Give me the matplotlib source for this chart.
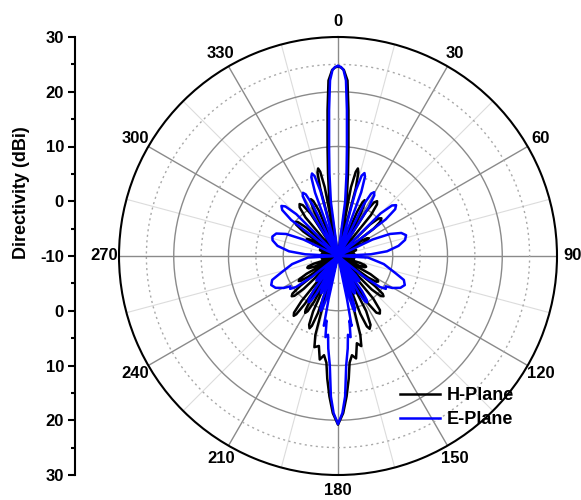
import numpy as np
import matplotlib

matplotlib.use("Agg")
import matplotlib.pyplot as plt
from matplotlib.ticker import MultipleLocator

plt.rcParams["font.family"] = ["Liberation Sans", "DejaVu Sans"]
plt.rcParams["font.weight"] = "bold"

# H-plane directivity cut: angle (deg, clockwise from boresight) and gain (dBi)
h_angle = [
    0, 0.9, 1.8, 3.1, 4.1, 5.5, 6.9, 8.5, 9.8,
    10.7, 11.9, 12.8, 13.7, 14.7, 16, 22,
    23.4, 24.5, 25.5, 26.8, 28.2, 30,
    32.2, 33.9, 35.5, 37.1, 38.8, 41,
    43, 45.4, 47.2, 49, 50.8, 52.6, 55,
    57, 58.5, 60, 61.5, 63, 65,
    67.4, 69.2, 71, 72.5, 74, 76,
    77, 79, 80.5, 82, 83.8, 85.6, 88,
    93, 95.4, 97.2, 99, 100.8, 102.6, 105,
    107.4, 109.2, 111, 112.8, 114.6, 117,
    119.2, 120.9, 122.5, 124, 125.6, 127.5,
    129.1, 130.3, 131.5, 133.1, 134.8, 137,
    138, 140.4, 142.2, 144, 145.9, 147.8, 150.5,
    152.9, 154.7, 156.5, 157.7, 158.9, 160.5,
    161.8, 163, 164.2, 165.5, 167.8, 170, 172, 173.8, 175, 176.5, 178.1, 180,
    181.9, 183.5, 185, 186.2, 188, 190, 192, 194.5, 196, 197, 198,
    199.4, 200.5, 201.5, 202.8, 204.2, 206,
    207.6, 208.8, 210, 211, 212.1, 213.5,
    214.7, 215.6, 216.5, 217.8, 219, 221,
    224.5, 226.3, 227.6, 229, 230.4, 231.7, 233.5,
    235.1, 236.3, 237.5, 239, 240.5, 242.5,
    243.5, 245.7, 247.4, 249, 250.7, 252.3, 254.5,
    255, 257.4, 259.2, 261, 262.8, 264.6, 267,
    272, 274.4, 276.2, 278, 279.5, 281, 283,
    284, 286, 287.5, 289, 290.5, 292, 294,
    295.8, 297.2, 298.5, 299.8, 301.2, 303,
    305.2, 306.9, 308.5, 310.2, 311.8, 314,
    317.5, 319.9, 321.7, 323.5, 325.3, 327.1, 329.5,
    330, 331.8, 333.2, 334.5, 335.8, 337.2, 338.5,
    344, 345.3, 346.2, 347.2, 348.1, 349.1, 350.2,
    351.5, 353.1, 354.5, 355.9, 356.9, 358.2, 359.1, 360,
]
h_gain = [
    24.6, 24.45, 24.0, 22.1, 16.7, 9.9, 5.2, 1.0, -10,
    2.8, 5.7, 6.4, 5.7, 2.8, -10, -10,
    -1.2, 0.8, 1.3, 0.8, -1.2, -10,
    -0.4, 1.8, 2.3, 1.8, -0.4, -10,
    -10, -1.8, 0.1, 0.5, 0.1, -1.8, -10,
    -4.9, -3.8, -3.5, -3.8, -4.9, -10,
    -7.3, -6.6, -6.5, -6.6, -7.3, -10,
    -10, -7.7, -7.1, -7.0, -7.1, -7.7, -10,
    -10, -7.7, -7.1, -7.0, -7.1, -7.7, -10,
    -5.7, -4.7, -4.5, -4.7, -5.7, -10,
    -3.2, -1.6, -1.3, -1.6, -3.2, -10,
    -1.3, 0.7, 1.1, 0.7, -1.3, -10,
    -10, 0.1, 2.5, 3.0, 2.5, 0.1, -10,
    1.3, 3.9, 4.5, 3.9, 1.3, -10,
    -10, -1.0, 5.0, 7.0, 6.3, 9.0, 8.3, 9.6, 12.5, 15.7, 18.7, 20.8,
    18.7, 15.7, 12.5, 9.6, 8.3, 9.2, 6.8, 7.2, 5.0, -1.0, -10,
    1.1, 3.6, 4.2, 3.6, 1.1, -10,
    -0.6, 1.5, 2.0, 1.5, -0.6, -10,
    0.6, 3.1, 3.6, 3.1, 0.6, -10,
    -10, -1.3, 0.8, 1.2, 0.8, -1.3, -10,
    -3.4, -1.8, -1.5, -1.8, -3.4, -10,
    -10, -5.3, -4.2, -4.0, -4.2, -5.3, -10,
    -10, -7.7, -7.1, -7.0, -7.1, -7.7, -10,
    -10, -7.7, -7.1, -7.0, -7.1, -7.7, -10,
    -10, -7.3, -6.6, -6.5, -6.6, -7.3, -10,
    -4.9, -3.8, -3.5, -3.8, -4.9, -10,
    -2.2, -0.4, 0.0, -0.4, -2.2, -10,
    -10, -0.8, 1.3, 1.8, 1.3, -0.8, -10,
    -10, -1.0, 1.0, 1.5, 1.0, -1.0, -10,
    -10, 2.8, 5.7, 6.4, 5.7, 2.8, -10,
    1.0, 5.2, 9.9, 16.7, 22.1, 24.0, 24.45, 24.6,
]

# E-plane directivity cut
e_angle = [
    0, 0.85, 1.7, 2.6, 3.5, 4.7, 5.9, 7.5, 9, 13.5,
    15.2, 16.4, 17.7, 18.8, 20, 21.5, 24.5,
    26.5, 28, 29.5, 30.9, 32.2, 34, 42.5,
    45.0, 46.9, 48.8, 50.7, 52.5, 55, 62,
    64.5, 67, 70, 73, 76.5, 80.5, 84.5, 87, 88.5, 91,
    93, 100, 106.7, 110, 113.5, 117, 120.5, 122.5, 124.5, 126.5, 128.5, 130.5, 135.5,
    137.3, 138.7, 140, 141.3, 142.5, 144,
    145.6, 146.8, 148, 149.3, 150.5, 152.5,
    153.9, 155, 156, 157, 157.9, 159.5,
    160, 161.2, 162.1, 163, 163.9, 164.8, 166,
    167.5, 168.2, 169, 170, 171.2, 172.8, 174, 175.7, 177.1, 178.4, 180,
    181.6, 182.9, 184.3, 186, 187.2, 188.8, 190, 191.5, 192.3, 193,
    194, 195.4, 196.5, 197.5, 198.5, 199.6, 201,
    202.4, 203.5, 204.5, 205.5, 206.6, 208,
    209.8, 211.2, 212.5, 213.9, 215.2, 217,
    218.6, 219.8, 221, 222.2, 223.4, 225,
    229.5, 231.5, 233.5, 235.5, 237.5, 239.5, 243, 246.5, 250, 253.3, 260, 267, 269,
    271.5, 273, 275.5, 279.5, 283.5, 286.5, 290, 293, 295.5, 298,
    305, 307.6, 309.5, 311.5, 313.3, 315.1, 317.5,
    326, 328, 329.5, 331, 332.4, 333.7, 335.5,
    338.5, 340.1, 341.3, 342.5, 343.7, 344.9, 346.5,
    351, 352.5, 354.1, 355.3, 356.5, 357.4, 358.3, 359.15, 360,
]
e_gain = [
    24.7, 24.55, 24.0, 22.1, 16.7, 9.9, 5.2, 0.0, -10, -10,
    2.4, 5.3, 5.9, 5.3, 2.4, -10, -10,
    0.5, 2.9, 3.4, 2.9, 0.5, -10, -10,
    1.0, 3.5, 4.1, 3.5, 1.0, -10, -10,
    -3.0, 0.3, 2.3, 3.0, 2.6, 1.2, -1.0, -4.0, -10, -10,
    -4.5, -1.5, 1.0, 2.8, 3.3, 2.8, 1.5, 0.3, 0.6, -0.5, -4.0, -10, -10,
    -5.3, -4.2, -4.0, -4.2, -5.3, -10,
    -2.2, -0.4, 0.0, -0.4, -2.2, -10,
    -4.2, -2.8, -2.5, -2.8, -4.2, -10,
    -10, -1.8, 0.1, 0.5, 0.1, -1.8, -10,
    -10, -2.0, 3.0, 2.0, 5.0, 4.5, 7.0, 10.0, 15.7, 18.7, 20.7,
    18.7, 15.7, 10.0, 7.0, 4.5, 5.0, 2.0, 3.0, -2.0, -10,
    -10, -1.8, 0.1, 0.5, 0.1, -1.8, -10,
    -4.2, -2.8, -2.5, -2.8, -4.2, -10,
    -2.2, -0.4, 0.0, -0.4, -2.2, -10,
    -5.3, -4.2, -4.0, -4.2, -5.3, -10,
    -10, -4.0, -0.5, 0.6, 0.3, 1.5, 2.8, 3.3, 2.8, 1.0, -1.5, -4.5, -10,
    -10, -4.0, -1.0, 1.2, 2.3, 2.5, 2.0, 0.3, -3.0, -10,
    -10, 0.8, 3.2, 3.8, 3.2, 0.8, -10,
    -10, 0.3, 2.7, 3.2, 2.7, 0.3, -10,
    -10, 2.3, 5.2, 5.8, 5.2, 2.3, -10,
    -10, 0.0, 5.2, 9.9, 16.7, 22.1, 24.0, 24.55, 24.7,
]

angle_ticks = list(range(0, 360, 30))
scale_ticks = [-40, -30, -20, -10, 0, 10, 20, 30, 40]
scale_labels = ["30", "20", "10", "0", "-10", "0", "10", "20", "30"]

W, H = 581, 500
fig = plt.figure(figsize=(W / 100, H / 100), dpi=100)

# polar plot: centre (338, 256) px, radius 219 px
ax = fig.add_axes([119 / W, 25 / H, 438 / W, 438 / H], projection="polar")
ax.set_theta_zero_location("N")
ax.set_theta_direction(-1)
ax.set_rlim(-10, 30)

ax.set_xticks(np.deg2rad(angle_ticks))
ax.set_xticklabels([str(a) for a in angle_ticks], fontsize=12, fontweight="bold")
ax.xaxis.set_minor_locator(plt.FixedLocator(np.deg2rad(np.arange(15, 360, 30))))
ax.set_yticks([-5, 0, 5, 10, 15, 20, 25])
ax.set_yticklabels([])
ax.tick_params(axis="x", which="both", direction="in", length=5, width=1,
               color="black", pad=4)
ax.tick_params(axis="y", length=0)

ax.grid(True, which="major", axis="x", color="#8a8a8a", lw=1.0, ls="-")
ax.grid(True, which="minor", axis="x", color="#dcdcdc", lw=0.8, ls="-")
ax.grid(True, which="major", axis="y", color="#8a8a8a", lw=1.0)
for line, r in zip(ax.yaxis.get_gridlines(), [-5, 0, 5, 10, 15, 20, 25]):
    if r % 10 != 0:
        line.set_linestyle((0, (1.5, 2.5)))
        line.set_color("#a8a8a8")
ax.spines["polar"].set_linewidth(1.5)
ax.spines["polar"].set_color("black")

ax.plot(np.deg2rad(h_angle), h_gain, color="black", lw=1.8, label="H-Plane")
ax.plot(np.deg2rad(e_angle), e_gain, color="#0000ff", lw=1.8, label="E-Plane")

ax.legend(loc="upper left", bbox_to_anchor=(400 / W, 1 - 387 / H),
          bbox_transform=fig.transFigure, frameon=False,
          prop={"size": 13, "weight": "bold"}, handlelength=2.2,
          handletextpad=0.4, borderpad=0, borderaxespad=0, labelspacing=0.4)

# linear dB scale drawn along the left edge
lax = fig.add_axes([75 / W, 25 / H, 0.001, 438 / H])
lax.patch.set_visible(False)
lax.set_ylim(-40, 40)
for side in ("top", "right", "bottom"):
    lax.spines[side].set_visible(False)
lax.spines["left"].set_linewidth(1.5)
lax.set_xticks([])
lax.set_yticks(scale_ticks)
lax.set_yticklabels(scale_labels, fontsize=12, fontweight="bold")
lax.yaxis.set_minor_locator(MultipleLocator(5))
lax.tick_params(axis="y", which="major", length=5, width=1.5, pad=3)
lax.tick_params(axis="y", which="minor", length=3, width=1.5)

fig.text(22 / W, 1 - 193 / H, "Directivity (dBi)", rotation=90, ha="center",
         va="center", fontsize=13, fontweight="bold")

fig.savefig("out.png", dpi=100)
